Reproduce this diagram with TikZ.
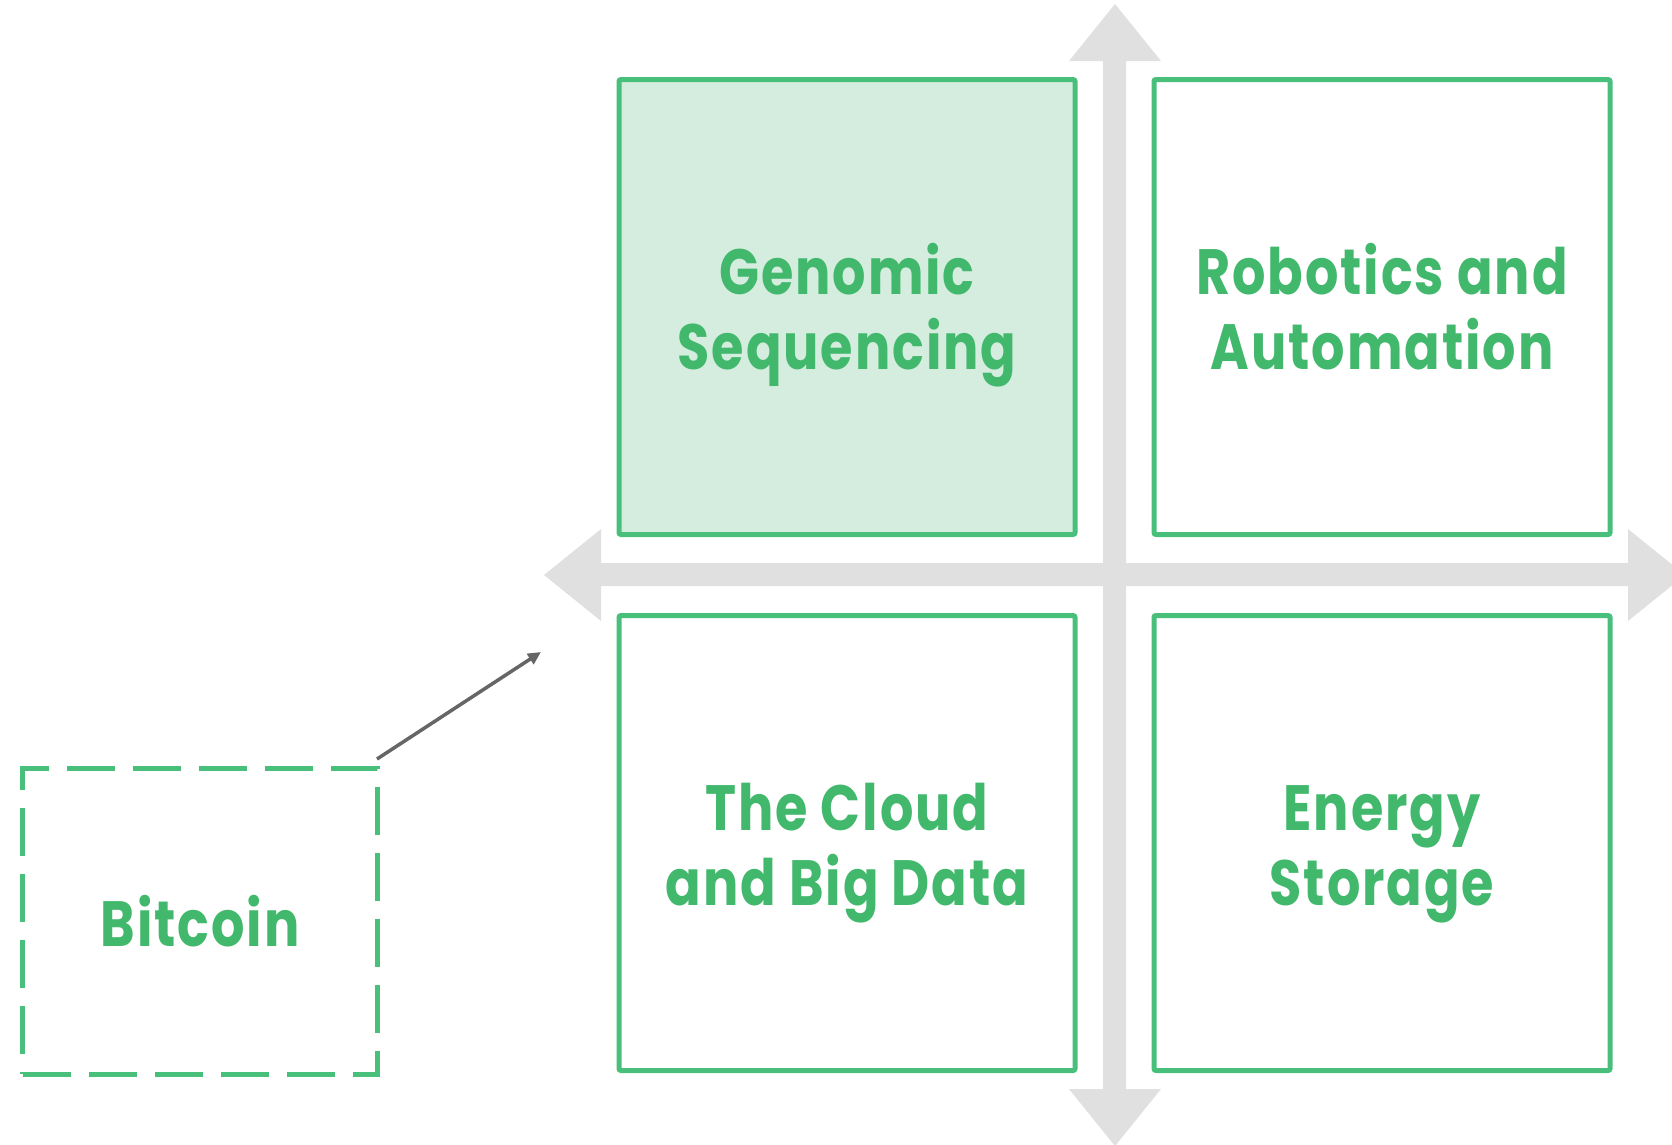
\documentclass[tikz,border=0pt]{standalone}
\usepackage{fontspec}
\setmainfont{Poppins}[UprightFont=* Bold, LetterSpace=3, FakeStretch=0.82]
\usetikzlibrary{arrows.meta}
\definecolor{gborder}{HTML}{48C07C}
\definecolor{gtext}{HTML}{41B86C}
\definecolor{gfill}{HTML}{D4EDDF}
\definecolor{axisgray}{HTML}{E0E0E0}
\definecolor{pointer}{HTML}{666666}
\tikzset{
  quad/.style={draw=gborder, line width=5pt, rounded corners=2pt, minimum width=456pt, minimum height=455pt, inner sep=0pt},
  qtext/.style={text=gtext, align=center, inner sep=0pt, font=\fontsize{64}{75}\selectfont},
  twoline/.style={qtext, yshift=-9.5pt},
  axis/.style={fill=axisgray, draw=none},
  bitbox/.style={draw=gborder, line width=5pt, dash pattern=on 48pt off 18pt, minimum width=355pt, minimum height=306pt, inner sep=0pt},
  ptr/.style={draw=pointer, line width=3.5pt, -{Triangle[length=13pt,width=12pt]}}
}
\begin{document}
\begin{tikzpicture}[x=1pt,y=-1pt]
\useasboundingbox (0,0) rectangle (1672,1144);
\clip (0,0) rectangle (1672,1144);
% axes
\fill[axis] (1103,61) -- (1069,61) -- (1115,4) -- (1161,61) -- (1126,61) -- (1126,1089) -- (1161,1089) -- (1115,1146) -- (1069,1089) -- (1103,1089) -- cycle;
\fill[axis] (601,563) -- (601,529) -- (544,575) -- (601,621) -- (601,586) -- (1628,586) -- (1628,621) -- (1685,575) -- (1628,529) -- (1628,563) -- cycle;
% quadrants
\node[quad, fill=gfill] (gen) at (847,307) {};
\node[quad] (rob) at (1382,307) {};
\node[quad] (cld) at (847,843) {};
\node[quad] (eng) at (1382,843) {};
\node[twoline] (gent) at (gen) {\strut Genomic\\\strut Sequencing};
\node[twoline] (robt) at (rob) {\strut Robotics and\\\strut Automation};
\node[twoline] (cldt) at (cld) {\strut The Cloud\\\strut and Big Data};
\node[twoline] (engt) at (eng) {\strut Energy\\\strut Storage};
% bitcoin
\node[bitbox] (bit) at (200,921) {};
\node[qtext] (bitt) at (bit) {Bitcoin};
\coordinate (a0) at (377,759);
\coordinate (a1) at (541,652);
\draw[ptr] (a0) -- (a1);
\end{tikzpicture}
\end{document}
